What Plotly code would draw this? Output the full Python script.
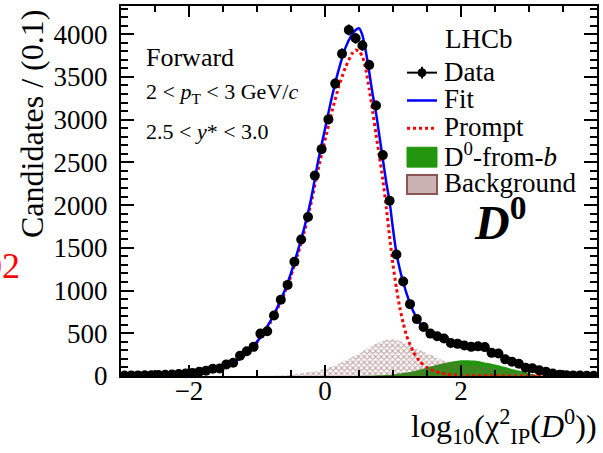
import numpy as np
import plotly.graph_objects as go

# ---------------- data ----------------
bin_centers = [round(-2.95 + 0.1 * i, 2) for i in range(70)]
data_counts = [5, 6, 7, 8, 10, 12, 14, 18, 22, 28,
               36, 50, 62, 85, 88, 136, 155, 236, 290, 341,
               496, 523, 709, 892, 1066, 1337, 1597, 1860, 2345, 2655,
               3003, 3422, 3771, 4050, 3953, 3868, 3640, 3166, 2585, 2050,
               1422, 1105, 841, 666, 573, 496, 465, 438, 387, 376,
               357, 341, 347, 338, 271, 264, 195, 166, 143, 97,
               90, 66, 50, 28, 14, 10, 7, 5, 4, 3]

curve_x = [-3.0, -2.8, -2.6, -2.4, -2.2, -2.0, -1.8, -1.6, -1.4, -1.2,
           -1.0, -0.9, -0.8, -0.7, -0.6, -0.5, -0.4, -0.3, -0.2, -0.1,
           0.0, 0.1, 0.2, 0.3, 0.4, 0.45, 0.5, 0.55, 0.6, 0.65,
           0.7, 0.75, 0.8, 0.85, 0.9, 0.95, 1.0, 1.05, 1.1, 1.15,
           1.2, 1.3, 1.4, 1.5, 1.6, 1.7, 1.8, 1.9, 2.0, 2.1,
           2.2, 2.3, 2.4, 2.5, 2.6, 2.7, 2.8, 2.9, 3.0, 3.1,
           3.2, 3.3, 3.4, 3.6, 3.8, 4.0]
fit_vals = [1, 2, 4, 8, 15, 26, 45, 80, 135, 235,
            400, 515, 645, 805, 985, 1205, 1465, 1750, 2090, 2520,
            2890, 3260, 3580, 3840, 4000, 4050, 4070, 3990, 3800, 3560,
            3300, 3080, 2810, 2540, 2270, 2040, 1720, 1440, 1250, 1100,
            965, 755, 610, 525, 470, 440, 410, 385, 365, 350,
            340, 330, 300, 265, 230, 182, 150, 120, 93, 75,
            55, 38, 20, 8, 3, 1]
prompt_vals = [1, 2, 4, 8, 15, 26, 45, 80, 135, 233,
               395, 505, 630, 785, 960, 1175, 1425, 1700, 2040, 2420,
               2760, 3090, 3380, 3610, 3775, 3815, 3800, 3740, 3590, 3360,
               3100, 2830, 2570, 2300, 1980, 1630, 1300, 1030, 800, 620,
               470, 280, 165, 100, 60, 35, 20, 12, 7, 4,
               3, 2, 1, 1, 0, 0, 0, 0, 0, 0,
               0, 0, 0, 0, 0, 0]
fromb_vals = [0, 0, 0, 0, 0, 0, 0, 0, 0, 0,
              0, 0, 0, 0, 0, 0, 0, 0, 0, 0,
              0, 0, 0, 0, 0, 0, 1, 1, 2, 3,
              4, 6, 8, 10, 12, 15, 18, 23, 28, 34,
              40, 55, 75, 100, 120, 140, 158, 172, 185, 185,
              180, 168, 152, 135, 115, 95, 72, 52, 32, 12,
              3, 0, 0, 0, 0, 0]
bkg_vals = [0, 0, 0, 0, 0, 0, 0, 0, 0, 0,
            0, 1, 2, 5, 10, 16, 25, 37, 50, 65,
            85, 110, 140, 180, 220, 240, 262, 285, 310, 335,
            358, 378, 395, 410, 420, 425, 426, 422, 410, 395,
            378, 340, 300, 265, 230, 195, 170, 155, 145, 135,
            125, 115, 105, 92, 80, 66, 52, 38, 25, 14,
            6, 2, 0, 0, 0, 0]

legend_labels = ["Data", "Fit", "Prompt", "D<sup>0</sup>-from-<i>b</i>", "Background"]

assert len(bin_centers) == len(data_counts)
for arr in (fit_vals, prompt_vals, fromb_vals, bkg_vals):
    assert len(arr) == len(curve_x)

FONT = "Liberation Serif"
GREEN = "rgb(34,150,14)"
BROWN = "rgb(140,85,85)"

fig = go.Figure()

fig.add_trace(go.Scatter(
    x=curve_x, y=fromb_vals, mode="lines", fill="tozeroy",
    line=dict(color=GREEN, width=0, shape="spline", smoothing=0.6),
    fillcolor=GREEN, showlegend=False, hoverinfo="skip"))

fig.add_trace(go.Scatter(
    x=curve_x, y=bkg_vals, mode="lines", fill="tozeroy",
    line=dict(color=BROWN, width=0, shape="spline", smoothing=0.6),
    fillcolor="rgba(0,0,0,0)",
    fillpattern=dict(shape="x", fgcolor=BROWN, bgcolor="rgba(0,0,0,0)",
                     size=4, solidity=0.5),
    showlegend=False, hoverinfo="skip"))

fig.add_trace(go.Scatter(
    x=curve_x, y=prompt_vals, mode="lines",
    line=dict(color="rgb(255,0,0)", width=3, dash="dot", shape="spline", smoothing=0.6),
    showlegend=False, hoverinfo="skip"))

fig.add_trace(go.Scatter(
    x=curve_x, y=fit_vals, mode="lines",
    line=dict(color="rgb(0,0,255)", width=2.5, shape="spline", smoothing=0.6),
    showlegend=False, hoverinfo="skip"))

fig.add_trace(go.Scatter(
    x=bin_centers, y=data_counts, mode="markers",
    marker=dict(color="black", size=10),
    error_y=dict(type="data", array=np.sqrt(np.array(data_counts, dtype=float)),
                 color="black", thickness=2, width=0),
    showlegend=False))

# ---------------- axes ----------------
fig.update_xaxes(
    range=[-3, 4], showgrid=False, zeroline=False,
    showline=True, linecolor="black", linewidth=2, mirror="ticks",
    ticks="inside", ticklen=11, tickwidth=2, tickcolor="black",
    tick0=0, dtick=2,
    minor=dict(ticks="inside", ticklen=6, tickwidth=1.5, tickcolor="black", dtick=0.5),
    tickfont=dict(family=FONT, size=27, color="black"),
    ticklabelstandoff=-10)
fig.update_yaxes(
    range=[0, 4330], showgrid=False, zeroline=False,
    showline=True, linecolor="black", linewidth=2, mirror="ticks",
    ticks="inside", ticklen=13, tickwidth=2, tickcolor="black",
    tick0=0, dtick=500,
    minor=dict(ticks="inside", ticklen=7, tickwidth=1.5, tickcolor="black", dtick=100),
    tickfont=dict(family=FONT, size=27, color="black"),
    ticklabelstandoff=6)

W, H = 603, 453
L, R, T, B = 121, 6, 4, 77
pw, ph = W - L - R, H - T - B


def px(xp):
    return (xp - L) / pw


def py(yp):
    return 1 - (yp - T) / ph


ann = []


def text(s, xp, yp, size, xanchor="left", yanchor="middle", color="black", angle=0):
    ann.append(dict(text=s, x=px(xp), y=py(yp), xref="paper", yref="paper",
                    xanchor=xanchor, yanchor=yanchor, showarrow=False,
                    textangle=angle, font=dict(family=FONT, size=size, color=color)))


# axis titles
text("Candidates / (0.1)", 32, 6, 32, xanchor="center", yanchor="top", angle=-90)
text("log<sub>10</sub>(χ<sup>2</sup><sub>IP</sub>(<i>D</i><sup>0</sup>))", 599, 427, 32,
     xanchor="right")
text("02", 22, 265, 36, xanchor="right", color="red")

# labels in the plot
text("Forward", 144, 56, 26)
text("2 &lt; <i>p</i><sub>T</sub> &lt; 3 GeV/<i>c</i>", 144, 91, 22)
text("2.5 &lt; <i>y</i>* &lt; 3.0", 144, 130, 22)
text("LHCb", 443, 37, 27)
text("<b><i>D</i><sup>0</sup></b>", 472, 218, 48)

legend_y = [70, 98, 126, 154, 182]
for lab, ly in zip(legend_labels, legend_y):
    text(lab, 442, ly, 27)

shapes = []


def pshape(kind, x0, y0, x1, y1, **kw):
    d = dict(type=kind, xref="paper", yref="paper",
             x0=px(x0), x1=px(x1), y0=py(y0), y1=py(y1))
    d.update(kw)
    shapes.append(d)


# legend keys
pshape("line", 407, 71, 437, 71, line=dict(color="black", width=2))
pshape("line", 422, 65, 422, 77, line=dict(color="black", width=2))
pshape("circle", 418, 67, 426, 75, fillcolor="black", line=dict(color="black", width=1))
pshape("line", 407, 99, 437, 99, line=dict(color="rgb(0,0,255)", width=2.5))
pshape("line", 407, 127, 437, 127, line=dict(color="rgb(255,0,0)", width=3, dash="dot"))
pshape("rect", 407, 146, 437, 166, fillcolor=GREEN, line=dict(color=GREEN, width=1))
pshape("rect", 407, 174, 437, 193, fillcolor="rgba(140,85,85,0.45)",
       line=dict(color=BROWN, width=2))

fig.update_layout(
    width=W, height=H, autosize=False,
    margin=dict(l=L, r=R, t=T, b=B, pad=0),
    paper_bgcolor="white", plot_bgcolor="white",
    showlegend=False,
    font=dict(family=FONT, color="black"),
    annotations=ann, shapes=shapes)

fig.write_html("out.html", config={"displayModeBar": False})
